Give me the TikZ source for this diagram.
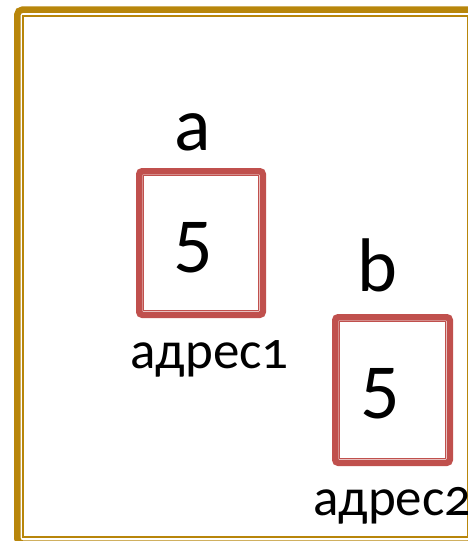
\documentclass[tikz,border=0pt]{standalone}
\usepackage{fontspec}
\setmainfont{Carlito}
\newfontfamily\addrfont[Numbers=OldStyle]{Carlito}
\definecolor{framegold}{RGB}{184,134,11}
\definecolor{cellred}{RGB}{192,80,77}

\begin{document}
\begin{tikzpicture}[x=1pt,y=-1pt,
	cell/.style={draw=cellred, line width=6.5pt, rounded corners=3pt, inner sep=0pt},
	cellin/.style={draw=cellred, line width=1.5pt},
	val/.style={font=\fontsize{78}{80}\selectfont, inner sep=0pt, anchor=base},
	var/.style={font=\fontsize{76}{78}\selectfont, inner sep=0pt, anchor=base},
	addr/.style={font=\addrfont\fontsize{53}{55}\selectfont, inner sep=0pt, anchor=base}]
	\useasboundingbox (0,0) rectangle (468,541);
	\clip (0,0) rectangle (468,541);
	\fill[white] (0,0) rectangle (468,541);
	\draw[framegold, line width=6.5pt, rounded corners=5pt] (17.3,9.7) rectangle (473.5,543.5);
	\draw[framegold, line width=2pt] (23.3,15.7) rectangle (467.5,537);

	\node[cell, minimum width=123.5pt, minimum height=143.5pt] (boxa) at (201,243) {};
	\node[cell, minimum width=114.5pt, minimum height=145.5pt] (boxb) at (392.5,390) {};
	\draw[cellin] ([shift={(7.5pt,-7.5pt)}]boxa.north west) rectangle ([shift={(-7.5pt,7.5pt)}]boxa.south east);
	\draw[cellin] ([shift={(7.5pt,-7.5pt)}]boxb.north west) rectangle ([shift={(-7.5pt,7.5pt)}]boxb.south east);

	\node[val] (vala) at (193,272) {5};
	\node[val] (valb) at (380,418) {5};
	\node[var] (namea) at (193,150) {a};
	\node[var] (nameb) at (377.5,291) {b};
	\node[addr] (addra) at (209.5,368) {адрес1};
	\node[addr, anchor=base west] (addrb) at (313,515) {адрес2};
\end{tikzpicture}
\end{document}
